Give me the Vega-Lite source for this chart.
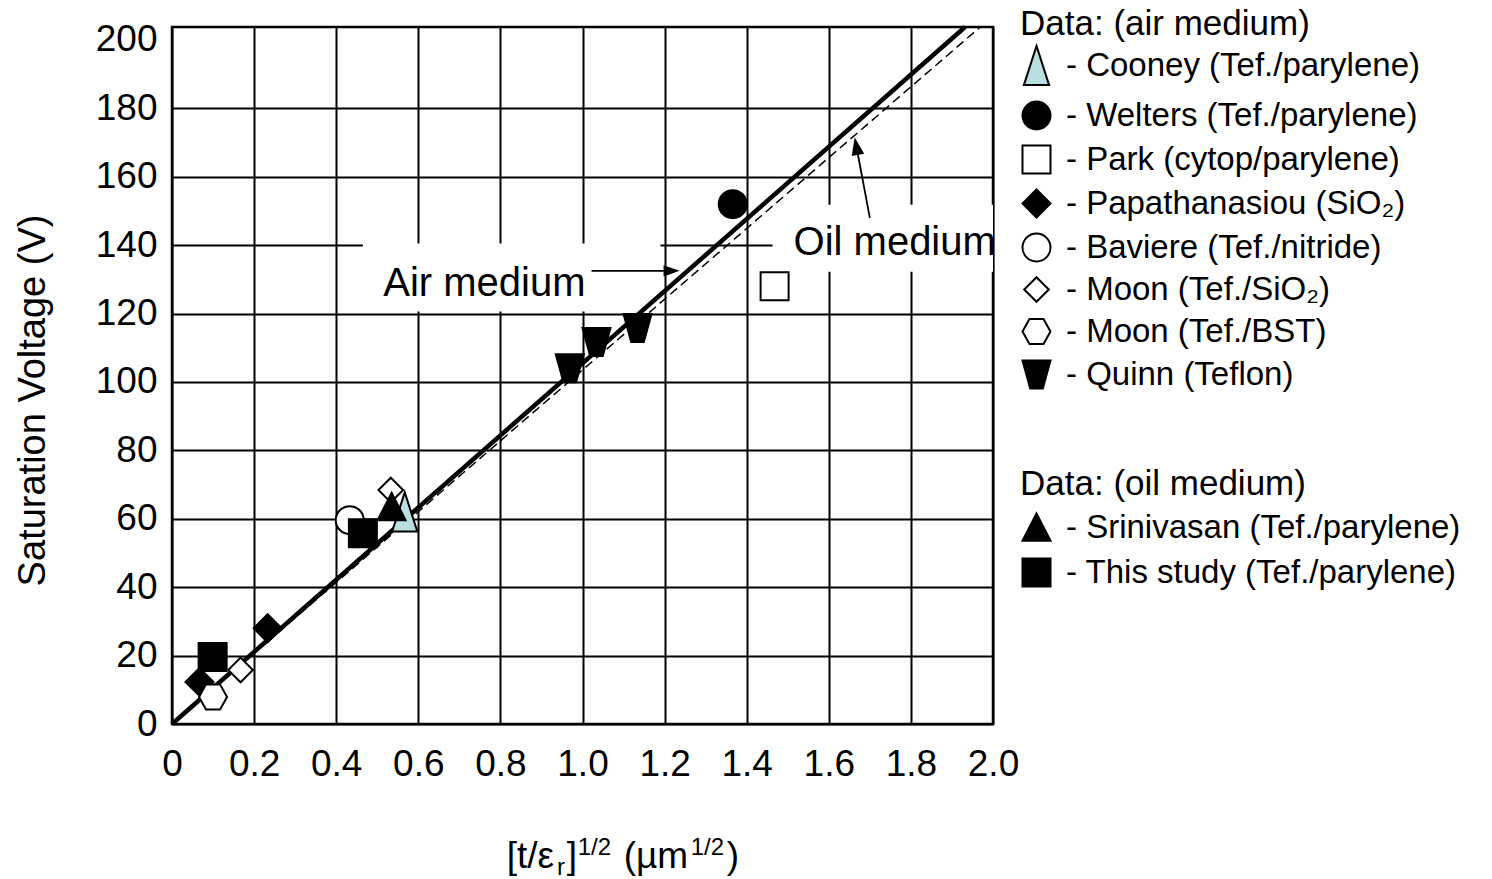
{
  "$schema": "https://vega.github.io/schema/vega-lite/v6.json",
  "autosize": {"type": "none"},
  "padding": {"left": 172, "top": 27, "right": 499, "bottom": 155},
  "width": 821,
  "height": 697,
  "background": "white",
  "config": {
    "font": "Liberation Sans",
    "view": {"stroke": "black", "strokeWidth": 2.5},
    "legend": {
      "orient": "none", "padding": 0,
      "titleFontSize": 35, "titleFontWeight": "normal", "titleColor": "black", "titleLimit": 800,
      "labelFontSize": 33, "labelColor": "black", "labelOffset": 13, "labelLimit": 800,
      "symbolSize": 784, "symbolStrokeWidth": 2
    }
  },
  "datasets": {
    "air": [
      {"study": "Baviere (Tef./nitride)", "x": 0.433, "y": 59.6},
      {"study": "Papathanasiou (SiO₂)", "x": 0.067, "y": 12.3},
      {"study": "Papathanasiou (SiO₂)", "x": 0.233, "y": 28.0},
      {"study": "Moon (Tef./SiO₂)", "x": 0.167, "y": 15.8},
      {"study": "Moon (Tef./SiO₂)", "x": 0.533, "y": 68.4},
      {"study": "Moon (Tef./BST)", "x": 0.100, "y": 7.9},
      {"study": "Welters (Tef./parylene)", "x": 1.366, "y": 152.0},
      {"study": "Park (cytop/parylene)", "x": 1.468, "y": 128.0},
      {"study": "Quinn (Teflon)", "x": 0.969, "y": 104.0},
      {"study": "Quinn (Teflon)", "x": 1.034, "y": 111.7},
      {"study": "Quinn (Teflon)", "x": 1.134, "y": 115.8},
      {"study": "Cooney (Tef./parylene)", "x": 0.567, "y": 62.0}
    ],
    "oil": [
      {"study": "This study (Tef./parylene)", "x": 0.099, "y": 19.6},
      {"study": "This study (Tef./parylene)", "x": 0.465, "y": 55.8},
      {"study": "Srinivasan (Tef./parylene)", "x": 0.535, "y": 63.5}
    ],
    "fits": [
      {"fit": "air", "x": 0, "y": 0},
      {"fit": "air", "x": 1.932, "y": 203.8},
      {"fit": "oil", "x": 0, "y": 0},
      {"fit": "oil", "x": 1.969, "y": 203.8}
    ],
    "boxes": [
      {"x": 0.465, "x2": 1.19, "y": 120.6, "y2": 140.5},
      {"x": 1.463, "x2": 2.0, "y": 132.2, "y2": 151.8}
    ],
    "notes": [
      {"label": "Air medium", "x": 0.761, "y": 125.1},
      {"label": "Oil medium", "x": 1.7605, "y": 137.1}
    ],
    "arrows": [
      {"a": "air", "x": 1.022, "y": 132.5},
      {"a": "air", "x": 1.217, "y": 132.5},
      {"a": "oil", "x": 1.700, "y": 148.0},
      {"a": "oil", "x": 1.667, "y": 169.0}
    ],
    "xtmain": [
      {"t": "[t/ε", "x": 0.8153, "y": -42.0},
      {"t": "]", "x": 0.9615, "y": -42.0},
      {"t": "(µm", "x": 1.1004, "y": -42.0},
      {"t": ")", "x": 1.3513, "y": -42.0}
    ],
    "xtsub": [
      {"t": "r", "x": 0.9376, "y": -44.2}
    ],
    "xtsup": [
      {"t": "1/2", "x": 0.9883, "y": -38.3},
      {"t": "1/2", "x": 1.2636, "y": -38.3}
    ]
  },
  "encoding": {
    "x": {
      "field": "x", "type": "quantitative",
      "scale": {"domain": [0, 2], "nice": false, "zero": false},
      "axis": {
        "values": [0, 0.2, 0.4, 0.6, 0.8, 1.0, 1.2, 1.4, 1.6, 1.8, 2.0],
        "labelExpr": "datum.value == 0 ? '0' : format(datum.value, '.1f')",
        "title": null, "domain": false, "ticks": false,
        "grid": true, "gridColor": "black", "gridWidth": 2, "gridOpacity": 1,
        "labelFontSize": 37, "labelColor": "black", "labelPadding": 22,
        "labelFlush": false, "labelOverlap": false
      }
    },
    "y": {
      "field": "y", "type": "quantitative",
      "scale": {"domain": [0, 203.8], "nice": false, "zero": false},
      "axis": {
        "values": [0, 20, 40, 60, 80, 100, 120, 140, 160, 180, 200],
        "title": "Saturation Voltage (V)",
        "titleFontSize": 38, "titleFontWeight": "normal", "titleColor": "black",
        "titleX": -139, "titleY": 373, "titleAngle": 270,
        "titleAlign": "center", "titleBaseline": "middle",
        "domain": false, "ticks": false,
        "grid": true, "gridColor": "black", "gridWidth": 2,
        "gridOpacity": {"condition": {"test": "datum.value >= 200", "value": 0}, "value": 1},
        "labelFontSize": 37, "labelColor": "black", "labelPadding": 15,
        "labelFlush": false, "labelOverlap": false
      }
    }
  },
  "layer": [
    {
      "data": {"name": "boxes"},
      "mark": {"type": "rect", "fill": "white", "stroke": null},
      "encoding": {
        "x2": {"field": "x2"},
        "y2": {"field": "y2"}
      }
    },
    {
      "data": {"name": "fits"},
      "transform": [{"filter": "datum.fit == 'oil'"}],
      "mark": {"type": "line", "color": "black", "strokeWidth": 1.5, "strokeDash": [9, 5]},
      "encoding": {}
    },
    {
      "data": {"name": "fits"},
      "transform": [{"filter": "datum.fit == 'air'"}],
      "mark": {"type": "line", "color": "black", "strokeWidth": 4.5},
      "encoding": {}
    },
    {
      "data": {"name": "air"},
      "mark": {"type": "point", "filled": true, "strokeWidth": 2, "size": 784, "opacity": 1},
      "encoding": {
        "shape": {
          "field": "study", "type": "nominal",
          "scale": {
            "domain": ["Cooney (Tef./parylene)", "Welters (Tef./parylene)", "Park (cytop/parylene)", "Papathanasiou (SiO₂)", "Baviere (Tef./nitride)", "Moon (Tef./SiO₂)", "Moon (Tef./BST)", "Quinn (Teflon)"],
            "range": ["M0,-1.4L0.9,1.4L-0.9,1.4Z", "circle", "square", "M0,-1L1,0L0,1L-1,0Z", "circle", "M0,-0.88L0.88,0L0,0.88L-0.88,0Z", "M-1,0L-0.5,-0.9L0.5,-0.9L1,0L0.5,0.9L-0.5,0.9Z", "M-1,-1L1,-1L0.45,1L-0.45,1Z"]
          },
          "legend": {
            "legendX": 848, "legendY": -20, "title": "Data: (air medium)", "titlePadding": 7,
            "labelExpr": "'- ' + datum.label", "rowPadding": 7
          }
        },
        "fill": {
          "field": "study", "type": "nominal",
          "scale": {
            "domain": ["Cooney (Tef./parylene)", "Welters (Tef./parylene)", "Park (cytop/parylene)", "Papathanasiou (SiO₂)", "Baviere (Tef./nitride)", "Moon (Tef./SiO₂)", "Moon (Tef./BST)", "Quinn (Teflon)"],
            "range": ["#b9e0e0", "black", "white", "black", "white", "white", "white", "black"]
          },
          "legend": {
            "legendX": 848, "legendY": -20, "title": "Data: (air medium)", "titlePadding": 7,
            "labelExpr": "'- ' + datum.label", "rowPadding": 7
          }
        },
        "stroke": {
          "field": "study", "type": "nominal",
          "scale": {
            "domain": ["Cooney (Tef./parylene)", "Welters (Tef./parylene)", "Park (cytop/parylene)", "Papathanasiou (SiO₂)", "Baviere (Tef./nitride)", "Moon (Tef./SiO₂)", "Moon (Tef./BST)", "Quinn (Teflon)"],
            "range": ["black", "black", "black", "black", "black", "black", "black", "black"]
          },
          "legend": {
            "legendX": 848, "legendY": -20, "title": "Data: (air medium)", "titlePadding": 7,
            "labelExpr": "'- ' + datum.label", "rowPadding": 7
          }
        }
      }
    },
    {
      "data": {"name": "oil"},
      "mark": {"type": "point", "filled": true, "strokeWidth": 2, "size": 784, "opacity": 1},
      "encoding": {
        "shape": {
          "field": "study", "type": "nominal",
          "scale": {
            "domain": ["Srinivasan (Tef./parylene)", "This study (Tef./parylene)"],
            "range": ["M0,-1L1,0.95L-1,0.95Z", "square"]
          },
          "legend": {
            "legendX": 848, "legendY": 440, "title": "Data: (oil medium)", "titlePadding": 9,
            "labelExpr": "'- ' + datum.label", "rowPadding": 9
          }
        },
        "fill": {
          "field": "study", "type": "nominal",
          "scale": {
            "domain": ["Srinivasan (Tef./parylene)", "This study (Tef./parylene)"],
            "range": ["black", "black"]
          },
          "legend": {
            "legendX": 848, "legendY": 440, "title": "Data: (oil medium)", "titlePadding": 9,
            "labelExpr": "'- ' + datum.label", "rowPadding": 9
          }
        },
        "stroke": {
          "field": "study", "type": "nominal",
          "scale": {
            "domain": ["Srinivasan (Tef./parylene)", "This study (Tef./parylene)"],
            "range": ["black", "black"]
          },
          "legend": {
            "legendX": 848, "legendY": 440, "title": "Data: (oil medium)", "titlePadding": 9,
            "labelExpr": "'- ' + datum.label", "rowPadding": 9
          }
        }
      }
    },
    {
      "data": {"name": "arrows"},
      "mark": {"type": "line", "color": "black", "strokeWidth": 1.8},
      "encoding": {"detail": {"field": "a", "type": "nominal"}}
    },
    {
      "data": {"name": "arrows"},
      "transform": [{"filter": "datum.a == 'air' && datum.x > 1.1"}],
      "mark": {"type": "point", "shape": "M0,-1L0.7,1L-0.7,1Z", "filled": true, "color": "black", "size": 256, "angle": 90, "opacity": 1}
    },
    {
      "data": {"name": "arrows"},
      "transform": [{"filter": "datum.a == 'oil' && datum.y > 160"}],
      "mark": {"type": "point", "shape": "M0,-1L0.7,1L-0.7,1Z", "filled": true, "color": "black", "size": 324, "angle": -10.6, "opacity": 1}
    },
    {
      "data": {"name": "notes"},
      "mark": {"type": "text", "fontSize": 40, "align": "center", "baseline": "alphabetic", "color": "black"},
      "encoding": {"text": {"field": "label"}}
    },
    {
      "data": {"name": "xtmain"},
      "mark": {"type": "text", "fontSize": 37, "align": "left", "baseline": "alphabetic", "color": "black"},
      "encoding": {"text": {"field": "t"}}
    },
    {
      "data": {"name": "xtsub"},
      "mark": {"type": "text", "fontSize": 24, "align": "left", "baseline": "alphabetic", "color": "black"},
      "encoding": {"text": {"field": "t"}}
    },
    {
      "data": {"name": "xtsup"},
      "mark": {"type": "text", "fontSize": 24, "align": "left", "baseline": "alphabetic", "color": "black"},
      "encoding": {"text": {"field": "t"}}
    }
  ],
  "resolve": {"scale": {"shape": "independent", "fill": "independent", "stroke": "independent"}}
}
